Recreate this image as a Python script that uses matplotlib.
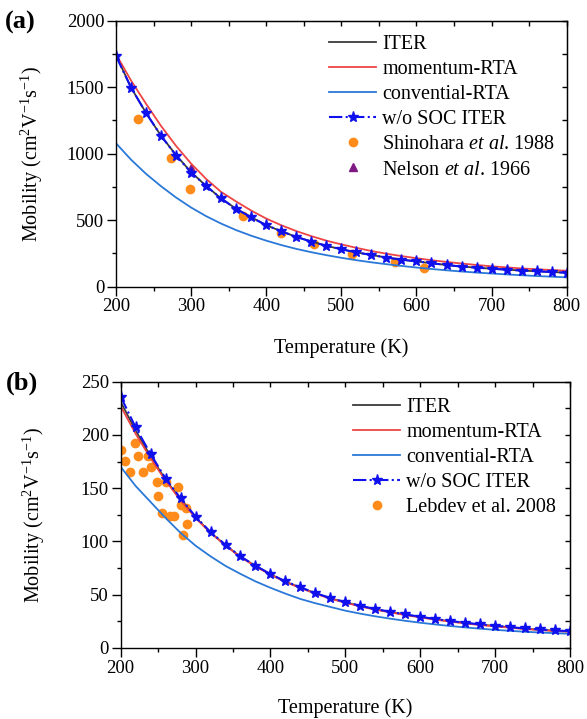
import numpy as np
import matplotlib
matplotlib.use("Agg")
import matplotlib.pyplot as plt
from matplotlib.ticker import MultipleLocator

plt.rcParams['font.family'] = ['Liberation Serif', 'DejaVu Serif']
plt.rcParams['mathtext.fontset'] = 'custom'
plt.rcParams['mathtext.rm'] = 'Liberation Serif'
plt.rcParams['mathtext.it'] = 'Liberation Serif:italic'

# ---------------- data: panel (a) ----------------
T = [200, 220, 240, 260, 280, 300, 320, 340, 360, 380, 400, 420, 440, 460, 480, 500,
     520, 540, 560, 580, 600, 620, 640, 660, 680, 700, 720, 740, 760, 780, 800]

a_iter = [1740, 1497, 1306, 1134, 989, 861, 757, 663, 585, 522, 462, 417, 374, 340, 307, 281,
          258, 238, 219, 203, 190, 176, 163, 151, 143, 135, 128, 121, 116, 110, 105]
a_nosoc = [1735, 1497, 1306, 1134, 986, 858, 757, 663, 584, 522, 462, 417, 374, 339, 307, 281,
           258, 238, 219, 203, 190, 176, 163, 151, 143, 135, 128, 121, 116, 110, 105]
a_mom = [1748, 1550, 1375, 1208, 1058, 925, 810, 712, 640, 572, 512, 462, 418, 380, 346, 318,
         292, 268, 248, 230, 214, 199, 186, 174, 163, 153, 145, 137, 131, 125, 120]
a_conv = [1078, 955, 848, 755, 670, 595, 530, 474, 425, 383, 346, 313, 284, 259, 237, 217,
          199, 183, 169, 156, 144, 133, 123, 114, 106, 99, 92, 86, 80, 75, 70]

shin_T = [229, 273, 299, 369, 420, 463, 514, 571, 610]
shin_mu = [1261, 970, 737, 534, 406, 319, 244, 188, 138]
nelson_T = [300]
nelson_mu = [890]

# ---------------- data: panel (b) ----------------
b_iter = [231, 204, 180, 158, 139.5, 122.5, 108.3, 96.5, 85.6, 77, 69.2, 62.3, 56.7, 51.4, 46.6, 42.9,
          39.4, 36.3, 33.8, 31.3, 29.1, 27.0, 25.1, 23.5, 21.9, 20.7, 19.4, 18.1, 17.2, 16.2, 15.6]
b_nosoc = [236, 207, 182, 159, 140.5, 123.3, 108.8, 96.9, 85.9, 77.2, 69.4, 62.5, 56.9, 51.6, 46.8, 43.1,
           39.6, 36.5, 34.0, 31.5, 29.3, 27.2, 25.3, 23.7, 22.1, 20.9, 19.6, 18.3, 17.4, 16.4, 15.8]
b_mom = [227, 201, 178, 157, 138.5, 122, 108, 96.2, 85.3, 76.6, 68.8, 61.9, 56.3, 51.0, 46.2, 42.5,
         39.0, 35.9, 33.4, 30.9, 28.7, 26.6, 24.7, 23.1, 21.5, 20.3, 19.0, 17.7, 16.8, 15.8, 15.1]
b_conv = [170, 152, 137, 122, 108, 96, 86, 77, 69.5, 62.5, 56.5, 51, 46, 42, 38.5, 35,
          32.2, 29.7, 27.5, 25.5, 23.7, 22.1, 20.6, 19.3, 18.1, 17.0, 16.1, 15.2, 14.5, 13.9, 13.3]

leb_T = [201, 206, 213, 219, 223, 230, 237, 241, 248, 250, 255, 260, 266, 271, 276, 280, 287, 289, 283]
leb_mu = [186, 175.6, 165.6, 192, 180, 165.6, 180, 170, 156, 142.7, 127, 156, 123.7, 123.7,
          151.5, 134.6, 131.4, 116.3, 106.3]

C_ITER = '#3a3a3a'
C_MOM = '#ee4444'
C_CONV = '#2a78d8'
C_NOSOC = '#1010ee'
C_ORANGE = '#ff8c1a'
C_PURPLE = '#7f1a85'

fig = plt.figure(figsize=(5.87, 7.19), dpi=100)
ax1 = fig.add_axes([0.1976, 0.6013, 0.7678, 0.370])
ax2 = fig.add_axes([0.2056, 0.0988, 0.7654, 0.3704])

TFS = 13.5
LFS = 14.5


def style_axes(ax, ymax, ymajor, yminor, ylab_x, xlab_y):
    ax.set_xlim(200, 800)
    ax.set_ylim(0, ymax)
    ax.xaxis.set_major_locator(MultipleLocator(100))
    ax.xaxis.set_minor_locator(MultipleLocator(50))
    ax.yaxis.set_major_locator(MultipleLocator(ymajor))
    ax.yaxis.set_minor_locator(MultipleLocator(yminor))
    ax.tick_params(which='major', direction='out', length=6.5, width=1.0, labelsize=TFS,
                   top=False, right=False, pad=2)
    ax.tick_params(which='minor', direction='out', length=3, width=1.0,
                   top=False, right=False)
    for s in ax.spines.values():
        s.set_linewidth(1.0)
    # inward ticks on top and right
    sx = ax.secondary_xaxis('top')
    sx.xaxis.set_major_locator(MultipleLocator(50))
    sx.tick_params(direction='in', length=3.5, width=1.0, labeltop=False)
    sy = ax.secondary_yaxis('right')
    sy.yaxis.set_major_locator(MultipleLocator(yminor))
    sy.tick_params(direction='in', length=3.5, width=1.0, labelright=False)
    ax.set_xlabel('Temperature (K)', fontsize=LFS)
    ax.set_ylabel(r'Mobility (cm$^2$V$^{-1}$s$^{-1}$)', fontsize=LFS)
    ax.yaxis.set_label_coords(ylab_x, 0.5)
    ax.xaxis.set_label_coords(0.5, xlab_y)


def add_legend(ax, x, y):
    ax.legend(loc='upper left', frameon=False, fontsize=LFS, handlelength=2.35,
              labelspacing=0.3, handletextpad=0.3, borderaxespad=0.0, borderpad=0.0,
              bbox_to_anchor=(x, y))


# ---- panel (a) ----
ax1.plot(T, a_iter, color=C_ITER, lw=1.3, label='ITER')
ax1.plot(T, a_mom, color=C_MOM, lw=1.3, label='momentum-RTA')
ax1.plot(T, a_conv, color=C_CONV, lw=1.3, label='convential-RTA')
ax1.plot(T, a_nosoc, color=C_NOSOC, lw=1.5, ls='-.', marker='*', ms=8,
         label='w/o SOC ITER')
ax1.plot(shin_T, shin_mu, 'o', color=C_ORANGE, ms=6, ls='none',
         label=r'Shinohara $\it{et\ al}$. 1988', zorder=1)
ax1.plot(nelson_T, nelson_mu, '^', color=C_PURPLE, ms=6, ls='none',
         label=r'Nelson $\it{et\ al}$. 1966', zorder=1)
style_axes(ax1, 2000, 500, 250, -0.158, -0.193)
add_legend(ax1, 0.4726, 0.947)

# ---- panel (b) ----
ax2.plot(T, b_iter, color=C_ITER, lw=1.3, label='ITER')
ax2.plot(T, b_mom, color=C_MOM, lw=1.3, label='momentum-RTA')
ax2.plot(T, b_conv, color=C_CONV, lw=1.3, label='convential-RTA')
ax2.plot(T, b_nosoc, color=C_NOSOC, lw=1.5, ls='-.', marker='*', ms=8,
         label='w/o SOC ITER')
ax2.plot(leb_T, leb_mu, 'o', color=C_ORANGE, ms=6, ls='none',
         label='Lebdev et al. 2008', zorder=1)
style_axes(ax2, 250, 50, 25, -0.164, -0.19)
add_legend(ax2, 0.517, 0.94)

fig.text(0.034, 0.969, '(a)', fontsize=19, fontweight='bold', ha='center', va='center')
fig.text(0.038, 0.467, '(b)', fontsize=19, fontweight='bold', ha='center', va='center')

fig.savefig('out.png', dpi=100)
